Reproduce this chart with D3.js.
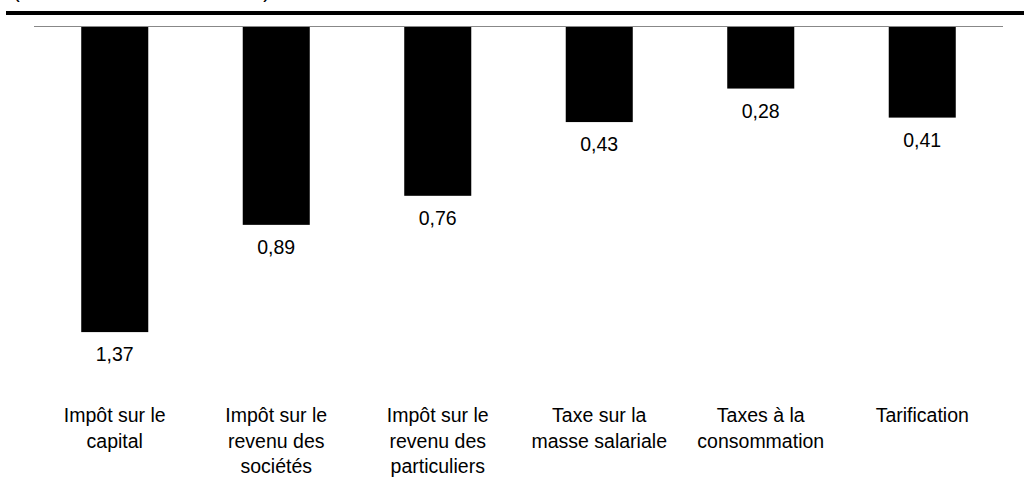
<!DOCTYPE html>
<html>
<head>
<meta charset="utf-8">
<script src="https://cdn.jsdelivr.net/npm/d3@7"></script>
<style>
  body { margin: 0; background: #fff; }
  svg { display: block; font-family: "Liberation Sans", Arial, sans-serif; }
</style>
</head>
<body>
<script>
// Chart data
const categories = [
  "Impôt sur le\ncapital",
  "Impôt sur le\nrevenu des\nsociétés",
  "Impôt sur le\nrevenu des\nparticuliers",
  "Taxe sur la\nmasse salariale",
  "Taxes à la\nconsommation",
  "Tarification"
];
const values = [1.37, 0.89, 0.76, 0.43, 0.28, 0.41];
const subtitle = "(coût en dollars de bien-être)";

const width = 1024, height = 503;
const axisY = 26;
const fontSize = "19.5px";

const svg = d3.select("body").append("svg")
  .attr("width", width)
  .attr("height", height);

// Subtitle, mostly cut off by the top edge (only the parentheses show)
svg.append("text")
  .attr("x", 13)
  .attr("y", -2)
  .attr("textLength", 257)
  .attr("lengthAdjust", "spacingAndGlyphs")
  .style("font-size", fontSize)
  .style("fill", "#000")
  .text(subtitle);

// Thick rule under the title
svg.append("line")
  .attr("x1", 6).attr("x2", width)
  .attr("y1", 13).attr("y2", 13)
  .attr("stroke", "#000")
  .attr("stroke-width", 4);

const x = d3.scaleBand()
  .domain(d3.range(categories.length))
  .range([34, 1003])
  .paddingInner(0.585)
  .paddingOuter(0.2925);

const y = d3.scaleLinear()
  .domain([0, 1.4])
  .range([axisY, axisY + 312.8]);

// Bars hang down from the axis
svg.append("g")
  .selectAll("rect")
  .data(values)
  .join("rect")
  .attr("x", (d, i) => x(i))
  .attr("y", y(0))
  .attr("width", x.bandwidth())
  .attr("height", d => y(d) - y(0))
  .attr("fill", "#000");

// Axis line
svg.append("line")
  .attr("x1", 34).attr("x2", 1003)
  .attr("y1", axisY + 0.5).attr("y2", axisY + 0.5)
  .attr("stroke", "#888")
  .attr("stroke-width", 1);

// Value labels
const fmt = d => d3.format(".2f")(d).replace(".", ",");
svg.append("g")
  .selectAll("text")
  .data(values)
  .join("text")
  .attr("x", (d, i) => x(i) + x.bandwidth() / 2)
  .attr("y", d => y(d) + 29)
  .attr("text-anchor", "middle")
  .style("font-size", fontSize)
  .style("fill", "#000")
  .text(fmt);

// Category labels
const cat = svg.append("g")
  .selectAll("text")
  .data(categories)
  .join("text")
  .attr("x", (d, i) => x(i) + x.bandwidth() / 2)
  .attr("y", 422)
  .attr("text-anchor", "middle")
  .style("font-size", fontSize)
  .style("fill", "#000");

cat.selectAll("tspan")
  .data(d => d.split("\n"))
  .join("tspan")
  .attr("x", function () { return d3.select(this.parentNode).attr("x"); })
  .attr("dy", (d, i) => i === 0 ? 0 : 25.5)
  .text(d => d);
</script>
</body>
</html>
